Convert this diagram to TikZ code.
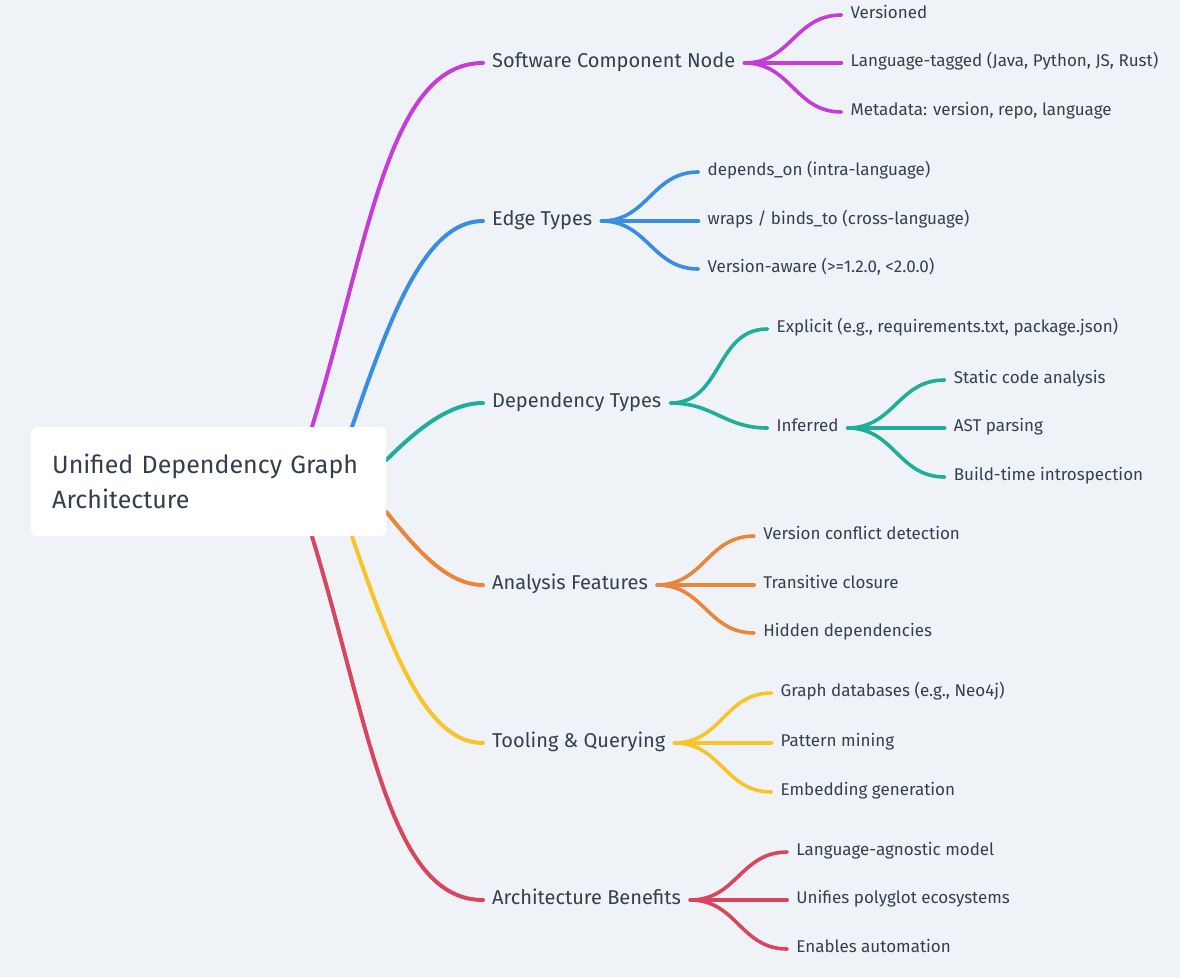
\documentclass[tikz,border=0pt]{standalone}
\usepackage{fontspec}
\setmainfont{Fira Sans}
\usetikzlibrary{positioning}

\definecolor{bgcol}{HTML}{EFF3F7}
\definecolor{ink}{HTML}{343F4D}
\definecolor{cmagenta}{HTML}{C43DD6}
\definecolor{cblue}{HTML}{3B8DE0}
\definecolor{cteal}{HTML}{20AE9B}
\definecolor{corange}{HTML}{EA863C}
\definecolor{cyellow}{HTML}{F7C42A}
\definecolor{cred}{HTML}{D7465C}

\pgfdeclarelayer{back}
\pgfdeclarelayer{wires}
\pgfsetlayers{back,wires,main}

\tikzset{
  root/.style={fill=white, rounded corners=5pt, text=ink, anchor=north west,
    font=\fontsize{25}{35}\selectfont, align=left, text width=313pt,
    inner xsep=21pt, minimum height=109pt},
  topic/.style={text=ink, anchor=west, font=\fontsize{20}{22}\selectfont,
    inner xsep=9pt, inner ysep=0pt, text height=0.86em, text depth=0pt},
  leaf/.style={text=ink, font=\fontsize{17}{19}\selectfont,
    inner xsep=9pt, inner ysep=0pt, text height=0.75em, text depth=0pt},
  limb/.style={line width=4pt, line cap=round, in=180,
    out looseness=1.25, in looseness=0.6},
  twig/.style={line width=3.6pt, line cap=round, out=0, in=180, looseness=1.1},
}

\begin{document}
\begin{tikzpicture}[x=1pt, y=1pt]
\begin{pgfonlayer}{back}
\fill[bgcol] (0,0) rectangle (1180,-977);
\end{pgfonlayer}
\useasboundingbox (0,0) rectangle (1180,-977);

\node[root] (root) at (31,-427) {Unified Dependency Graph\\Architecture};

% main branches
\node[topic] (component) at (483,-63) {Software Component Node};
\node[topic] (edges) at (483,-221) {Edge Types};
\node[topic] (deps) at (483,-403) {Dependency Types};
\node[topic] (analysis) at (483,-585) {Analysis Features};
\node[topic] (tooling) at (483,-743) {Tooling \& Querying};
\node[topic] (benefits) at (483,-900) {Architecture Benefits};

% leaves
\node[leaf, right=97pt of component, yshift=48pt] (versioned) {Versioned};
\node[leaf, right=97pt of component] (langtag) {Language-tagged (Java, Python, JS, Rust)};
\node[leaf, right=97pt of component, yshift=-49pt] (metadata) {Metadata: version, repo, language};

\node[leaf, right=97pt of edges, yshift=49pt] (dependson) {depends\_on (intra-language)};
\node[leaf, right=97pt of edges] (wraps) {wraps / binds\_to (cross-language)};
\node[leaf, right=97pt of edges, yshift=-48pt] (veraware) {Version-aware (>=1.2.0, <2.0.0)};

\node[leaf, right=97pt of deps, yshift=74pt] (explicit) {Explicit (e.g., requirements.txt, package.json)};
\node[leaf, right=97pt of deps, yshift=-25pt] (inferred) {Inferred};
\node[leaf, right=97pt of inferred, yshift=48pt] (static) {Static code analysis};
\node[leaf, right=97pt of inferred] (ast) {AST parsing};
\node[leaf, right=97pt of inferred, yshift=-49pt] (buildtime) {Build-time introspection};

\node[leaf, right=97pt of analysis, yshift=49pt] (conflict) {Version conflict detection};
\node[leaf, right=97pt of analysis] (closure) {Transitive closure};
\node[leaf, right=97pt of analysis, yshift=-48pt] (hidden) {Hidden dependencies};

\node[leaf, right=97pt of tooling, yshift=50pt] (graphdb) {Graph databases (e.g., Neo4j)};
\node[leaf, right=97pt of tooling] (mining) {Pattern mining};
\node[leaf, right=97pt of tooling, yshift=-49pt] (embedding) {Embedding generation};

\node[leaf, right=97pt of benefits, yshift=48pt] (agnostic) {Language-agnostic model};
\node[leaf, right=97pt of benefits] (polyglot) {Unifies polyglot ecosystems};
\node[leaf, right=97pt of benefits, yshift=-49pt] (automation) {Enables automation};

\begin{pgfonlayer}{wires}
\draw[limb, cmagenta, out=73] ([xshift=281pt]root.north west) to (component.west);
\draw[limb, cblue, out=71] ([xshift=321pt]root.north west) to (edges.west);
\draw[limb, cteal, out=45, out looseness=0.9, in looseness=0.8] ([yshift=-33pt]root.north east) to (deps.west);
\draw[limb, corange, out=-51, out looseness=0.9, in looseness=0.8] ([yshift=-85pt]root.north east) to (analysis.west);
\draw[limb, cyellow, out=-71] ([xshift=321pt]root.south west) to (tooling.west);
\draw[limb, cred, out=-73] ([xshift=281pt]root.south west) to (benefits.west);
\end{pgfonlayer}

\draw[twig, cmagenta] (component.east) to (versioned.west);
\draw[twig, cmagenta] (component.east) to (langtag.west);
\draw[twig, cmagenta] (component.east) to (metadata.west);

\draw[twig, cblue] (edges.east) to (dependson.west);
\draw[twig, cblue] (edges.east) to (wraps.west);
\draw[twig, cblue] (edges.east) to (veraware.west);

\draw[twig, cteal] (deps.east) to (explicit.west);
\draw[twig, cteal] (deps.east) to (inferred.west);
\draw[twig, cteal] (inferred.east) to (static.west);
\draw[twig, cteal] (inferred.east) to (ast.west);
\draw[twig, cteal] (inferred.east) to (buildtime.west);

\draw[twig, corange] (analysis.east) to (conflict.west);
\draw[twig, corange] (analysis.east) to (closure.west);
\draw[twig, corange] (analysis.east) to (hidden.west);

\draw[twig, cyellow] (tooling.east) to (graphdb.west);
\draw[twig, cyellow] (tooling.east) to (mining.west);
\draw[twig, cyellow] (tooling.east) to (embedding.west);

\draw[twig, cred] (benefits.east) to (agnostic.west);
\draw[twig, cred] (benefits.east) to (polyglot.west);
\draw[twig, cred] (benefits.east) to (automation.west);
\end{tikzpicture}
\end{document}
